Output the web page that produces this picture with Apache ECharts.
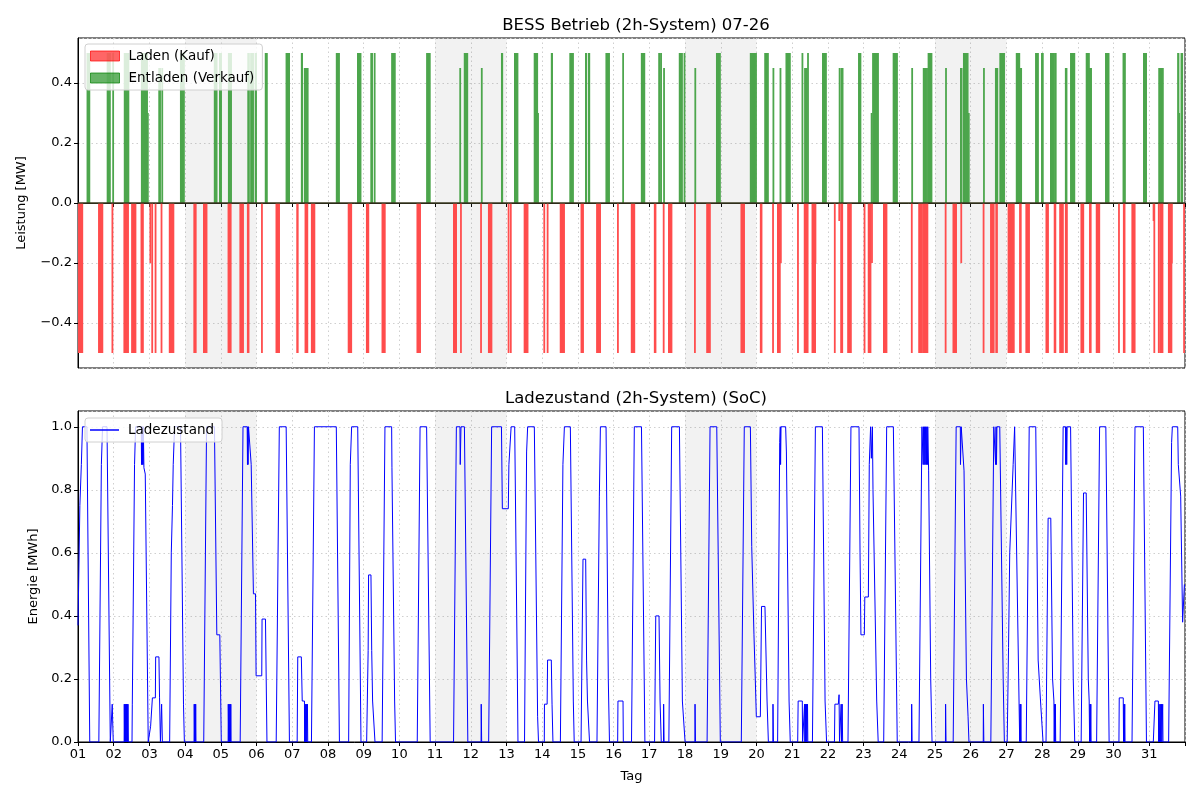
<!DOCTYPE html>
<html><head><meta charset="utf-8">
<script src="https://cdn.jsdelivr.net/npm/echarts@6/dist/echarts.min.js"></script>
<style>html,body{margin:0;padding:0;background:#fff}#c{width:1200px;height:800px}</style>
</head><body><div id="c"></div>
<script>
// time unit: hours since 01.07. 00:00 (31 days = 744 h)
const totalHours = 744;
const weekendRanges = [[72,120],[240,288],[408,456],[576,624]];
const seriesNames = ['Laden (Kauf)','Entladen (Verkauf)','Ladezustand'];

// charge intervals [start h, end h, power MW]
const chargeEvents = [
[0.5,3.0,-0.5],[14.0,16.5,-0.5],[23.0,23.25,-0.5],
[31.0,31.25,-0.5],[31.5,31.75,-0.5],[32.0,32.25,-0.5],[32.5,32.75,-0.5],[33.0,33.25,-0.5],[33.5,33.75,-0.5],
[36.25,38.75,-0.5],[42.5,42.75,-0.5],[43.0,43.25,-0.5],[43.5,43.75,-0.5],
[48.5,48.75,-0.2],[49.75,50.0,-0.5],[52.0,52.25,-0.5],[56.0,56.25,-0.5],
[61.5,64.25,-0.5],[78.0,78.25,-0.5],[78.5,78.75,-0.5],[79.0,79.25,-0.5],
[84.5,86.5,-0.5],[101.0,101.25,-0.5],[101.5,101.75,-0.5],[102.0,102.25,-0.5],[102.5,102.75,-0.5],
[109.0,111.0,-0.5],[114.0,114.25,-0.5],[114.5,114.75,-0.5],[123.5,123.75,-0.5],
[133.25,135.25,-0.5],[147.25,147.75,-0.5],[152.75,153.0,-0.5],[153.5,153.75,-0.5],[154.0,154.25,-0.5],
[157.0,159.0,-0.5],[181.75,183.75,-0.5],[194.0,195.25,-0.5],[204.5,206.25,-0.5],
[228.0,230.0,-0.5],[252.5,254.25,-0.5],[257.25,257.5,-0.5],[270.75,271.0,-0.5],
[276.0,278.0,-0.5],[289.25,289.5,-0.5],[290.75,291.0,-0.5],[300.0,302.25,-0.5],
[313.25,313.5,-0.5],[315.5,315.75,-0.5],[324.25,326.75,-0.5],[338.25,339.5,-0.5],
[348.75,351.0,-0.5],[362.75,363.0,-0.5],[372.0,374.0,-0.5],
[387.5,388.25,-0.5],[393.5,393.75,-0.5],[397.0,399.0,-0.5],[414.5,414.75,-0.5],
[422.75,424.75,-0.5],[445.75,447.75,-0.5],[458.75,459.5,-0.5],[467.0,467.25,-0.5],
[470.25,471.75,-0.5],[472.25,472.5,-0.2],[483.75,484.0,-0.5],
[488.25,488.5,-0.5],[488.75,489.0,-0.5],[489.5,489.75,-0.5],[490.25,490.5,-0.5],
[493.5,495.5,-0.5],[495.5,495.75,-0.2],[508.5,508.75,-0.5],[511.5,511.75,-0.06],
[512.75,513.0,-0.5],[513.5,513.75,-0.5],[517.5,519.5,-0.5],
[528.5,528.75,-0.5],[531.25,532.75,-0.5],[533.5,533.75,-0.2],[541.5,543.5,-0.5],
[560.25,560.5,-0.5],[565.25,567.25,-0.5],[568.0,568.25,-0.5],[568.75,569.0,-0.5],
[569.5,569.75,-0.5],[570.25,570.5,-0.5],[570.75,571.0,-0.5],[583.0,583.25,-0.5],
[588.25,590.25,-0.5],[593.5,593.75,-0.2],[608.5,608.75,-0.5],
[613.5,615.5,-0.5],[617.0,617.25,-0.5],[617.5,617.75,-0.5],[625.25,629.0,-0.5],
[633.0,633.25,-0.5],[633.5,633.75,-0.5],[637.25,639.25,-0.5],[650.75,652.0,-0.5],
[656.25,656.5,-0.5],[656.75,657.0,-0.5],[660.0,662.0,-0.5],[663.75,664.0,-0.5],[664.5,664.75,-0.5],
[674.25,675.75,-0.5],[680.0,680.25,-0.5],[680.5,680.75,-0.5],[684.5,686.5,-0.5],
[699.5,699.75,-0.5],[702.75,703.0,-0.5],[703.25,703.5,-0.5],[708.5,710.25,-0.5],
[722.75,723.0,-0.06],[723.25,723.5,-0.5],[726.25,726.5,-0.5],[727.25,727.5,-0.5],
[728.0,728.25,-0.5],[728.75,729.0,-0.5],[733.0,735.0,-0.5],[735.0,735.25,-0.2],[743.25,743.5,-0.5]
];

// discharge intervals [start h, end h, power MW]
const dischargeEvents = [
[6.25,7.75,0.5],[19.75,21.5,0.5],[23.5,23.75,0.5],
[31.25,31.5,0.5],[31.75,32.0,0.5],[32.25,32.5,0.5],[32.75,33.0,0.5],[33.25,33.5,0.5],[33.75,34.0,0.5],
[42.75,43.0,0.5],[43.25,43.5,0.5],[43.75,44.0,0.5],[44.25,46.5,0.5],[46.5,47.0,0.3],
[54.5,55.25,0.45],[56.5,56.75,0.45],[69.0,71.25,0.5],[91.75,93.25,0.5],[95.25,96.25,0.5],
[101.25,101.5,0.5],[101.75,102.0,0.5],[102.25,102.5,0.5],[102.75,103.0,0.5],
[114.25,114.5,0.5],[114.75,115.0,0.5],[116.25,117.75,0.5],[119.25,119.75,0.5],
[126.0,127.0,0.5],[140.0,142.0,0.5],[150.25,150.75,0.5],
[152.25,152.5,0.45],[153.0,153.25,0.45],[153.75,154.0,0.45],[154.25,154.5,0.45],
[173.75,175.5,0.5],[188.0,190.0,0.5],[197.0,197.75,0.5],[199.25,199.5,0.5],
[211.0,213.0,0.5],[234.5,236.5,0.5],[256.75,257.0,0.45],[259.75,261.75,0.5],
[271.25,271.5,0.45],[284.75,285.25,0.5],[293.5,295.5,0.5],[306.75,308.75,0.5],[308.75,309.25,0.3],
[318.25,318.75,0.5],[330.75,332.75,0.5],[341.25,341.75,0.5],[343.25,343.75,0.5],
[355.0,357.0,0.5],[366.25,366.5,0.5],[378.75,380.75,0.5],
[390.5,391.0,0.5],[391.75,392.0,0.5],[393.75,394.0,0.45],[404.25,406.0,0.5],[407.5,407.75,0.5],
[414.75,415.0,0.45],[429.25,431.5,0.5],[452.0,455.75,0.5],[461.75,463.75,0.5],
[467.25,467.5,0.45],[472.0,472.25,0.45],[476.0,478.5,0.5],[486.75,487.0,0.5],
[488.5,488.75,0.45],[489.0,489.25,0.45],[489.75,490.0,0.45],[490.5,490.75,0.5],
[500.5,502.75,0.5],[511.75,512.0,0.45],[513.0,513.25,0.45],[513.75,514.0,0.45],
[524.75,526.0,0.5],[533.25,533.5,0.3],[534.25,536.75,0.5],[536.75,537.75,0.5],
[548.0,550.5,0.5],[560.5,560.75,0.45],
[568.25,568.5,0.45],[569.0,569.25,0.45],[569.75,570.0,0.45],[570.5,570.75,0.45],
[571.5,573.75,0.5],[583.25,583.5,0.45],[593.25,593.5,0.45],[593.75,594.0,0.45],
[595.25,598.0,0.5],[598.0,598.75,0.3],[608.75,609.0,0.45],
[616.75,617.0,0.45],[617.25,617.5,0.45],[617.75,618.0,0.45],[619.75,622.5,0.5],
[630.75,632.75,0.5],[633.25,633.5,0.45],[633.75,634.0,0.45],
[643.75,645.25,0.5],[647.75,648.5,0.5],[653.75,655.75,0.5],[656.5,656.75,0.5],[657.0,657.25,0.5],
[663.75,664.0,0.45],[664.25,664.5,0.45],[667.25,669.75,0.5],
[677.75,679.5,0.5],[679.75,680.0,0.45],[680.25,680.5,0.45],[680.75,681.0,0.45],
[690.75,692.75,0.5],[702.5,702.75,0.5],[703.0,703.25,0.5],[703.5,703.75,0.5],
[716.25,718.0,0.5],[726.5,726.75,0.45],[727.5,727.75,0.45],[728.25,728.5,0.45],[729.0,729.25,0.45],
[739.25,739.75,0.5],[739.75,740.25,0.3],[741.5,742.25,0.5]
];

// state of charge [h, MWh]
const socPoints = [
[0,0.37],[0.5,0.37],[1.25,0.75],[2.25,0.88],[3.0,1.0],[6.0,1.0],[7.9,0],
[14.0,0],[15.7,0.88],[16.5,1.0],[19.5,1.0],[21.7,0],
[23.0,0],[23.0,0.12],[23.5,0.12],[23.7,0],
[31.0,0],[31.1,0.12],[31.35,0],[31.6,0.12],[31.85,0],[32.1,0.12],[32.35,0],[32.6,0.12],[32.85,0],[33.1,0.12],[33.35,0],[33.6,0.12],[33.85,0],
[36.3,0],[36.5,0.12],[38.0,0.88],[38.7,1.0],[42.5,1.0],[42.7,0.88],[42.9,1.0],[43.2,0.88],[43.4,1.0],[43.7,0.88],[43.9,1.0],[44.3,0.87],[45.2,0.85],[47.2,0],
[48.5,0],[48.8,0.05],[49.9,0.05],[50.0,0.14],[52.0,0.14],[52.2,0.27],[54.4,0.27],[54.8,0.14],[55.4,0],[56.0,0],[56.2,0.12],[56.5,0.12],[56.7,0],
[61.6,0],[62.7,0.6],[63.5,0.75],[64.0,0.88],[64.9,1.0],[68.9,1.0],[70.9,0.12],[71.5,0],
[78.0,0],[78.1,0.12],[78.4,0],[78.6,0.12],[78.9,0],[79.1,0.12],[79.3,0],
[84.5,0],[86.4,1.0],[91.7,1.0],[93.3,0.34],[95.3,0.34],[96.3,0],
[100.9,0],[101.0,0.12],[101.3,0],[101.6,0.12],[101.9,0],[102.2,0.12],[102.5,0],[102.7,0.12],[102.9,0],
[109.0,0],[110.9,1.0],[113.7,1.0],[113.9,0.88],[114.1,1.0],[114.3,0.88],[114.6,1.0],[115.9,1.0],[116.4,0.88],[117.9,0.47],[119.3,0.47],[119.7,0.21],[123.5,0.21],[123.7,0.39],[126.0,0.39],[127.0,0],
[133.2,0],[135.3,1.0],[139.9,1.0],[142.1,0],
[147.3,0],[147.7,0.27],[150.1,0.27],[150.7,0.13],[152.2,0.13],[152.3,0],[152.8,0.12],[153.0,0],[153.5,0.12],[153.7,0],[154.2,0.12],[154.4,0],
[156.9,0],[158.9,1.0],[173.6,1.0],[175.7,0],
[181.9,0],[183.0,0.88],[183.9,1.0],[188.0,1.0],[190.2,0],
[194.0,0],[195.0,0.29],[195.3,0.53],[196.9,0.53],[197.4,0.29],[198.0,0.13],[199.2,0.13],[199.6,0],
[204.4,0],[206.3,1.0],[210.8,1.0],[211.0,0.87],[212.8,0.13],[213.4,0],
[228.0,0],[229.9,1.0],[234.3,1.0],[236.7,0],
[252.4,0],[254.3,1.0],[256.7,1.0],[256.9,0.88],[257.2,0.88],[257.4,1.0],[259.7,1.0],[262.0,0],
[270.9,0],[271.0,0.12],[271.2,0.12],[271.3,0],
[276.0,0],[278.0,1.0],[284.6,1.0],[285.2,0.74],[289.2,0.74],[289.6,0.88],[290.8,0.88],[291.1,1.0],[293.5,1.0],[295.3,0.2],[295.7,0],
[300.1,0],[301.5,0.92],[302.2,1.0],[306.7,1.0],[308.9,0.08],[309.5,0],
[313.4,0],[313.5,0.12],[315.3,0.12],[315.6,0.26],[318.1,0.26],[318.6,0.12],[319.2,0],
[324.2,0],[325.9,0.88],[326.4,0.88],[326.9,1.0],[330.9,1.0],[332.9,0.13],[333.5,0],
[338.1,0],[339.4,0.58],[341.2,0.58],[341.8,0.26],[342.4,0.13],[343.4,0.13],[343.8,0],
[348.8,0],[350.4,0.78],[351.1,1.0],[354.9,1.0],[356.4,0.2],[357.2,0],
[362.7,0],[362.9,0.13],[366.3,0.13],[366.5,0],
[372.0,0],[373.9,1.0],[378.7,1.0],[381.0,0],
[387.5,0],[388.3,0.4],[390.5,0.4],[391.2,0.13],[391.8,0.13],[392.0,0],[393.5,0],[393.6,0.12],[393.8,0.12],[393.9,0],
[397.1,0],[399.0,1.0],[404.2,1.0],[406.2,0.13],[407.5,0.13],[408.0,0],
[414.6,0],[414.7,0.12],[414.9,0.12],[415.0,0],
[422.8,0],[424.8,1.0],[429.3,1.0],[431.7,0],
[445.8,0],[447.8,1.0],[451.9,1.0],[452.8,0.62],[453.7,0.62],[454.3,0.34],[455.2,0.2],[455.9,0.08],[458.6,0.08],[459.4,0.43],[461.7,0.43],[463.1,0.13],[464.0,0],
[467.0,0],[467.1,0.12],[467.3,0.12],[467.4,0],
[470.2,0],[471.6,0.95],[472.0,1.0],[472.2,0.88],[472.5,1.0],[475.6,1.0],[476.1,0.92],[477.9,0.13],[478.7,0],
[483.7,0],[484.0,0.13],[486.8,0.13],[487.0,0],[488.2,0],[488.3,0.12],[488.5,0],[488.9,0.12],[489.1,0],[489.6,0.12],[489.8,0],[490.3,0.12],[490.5,0],
[493.6,0],[495.6,1.0],[500.3,1.0],[502.1,0.13],[503.1,0],
[508.4,0],[508.7,0.12],[511.0,0.12],[511.5,0.15],[511.8,0],[512.8,0],[512.9,0.12],[513.1,0],[513.6,0.12],[513.9,0],
[517.5,0],[519.5,1.0],[524.9,1.0],[525.6,0.6],[526.2,0.34],[528.5,0.34],[528.8,0.46],[531.2,0.46],[531.8,0.88],[532.7,1.0],[533.2,0.9],[533.9,1.0],[534.3,0.8],[536.8,0.13],[537.8,0],
[541.5,0],[543.5,1.0],[548.0,1.0],[550.6,0],
[560.2,0],[560.3,0.12],[560.5,0.12],[560.6,0],
[565.2,0],[567.2,1.0],[567.9,1.0],[568.0,0.88],[568.2,1.0],[568.7,0.88],[568.9,1.0],[569.4,0.88],[569.6,1.0],[570.2,0.88],[570.4,1.0],[570.9,0.88],[571.1,1.0],[571.7,0.86],[573.1,0.2],[574.0,0],
[583.0,0],[583.1,0.12],[583.3,0.12],[583.4,0],
[588.2,0],[590.2,1.0],[593.0,1.0],[593.1,0.88],[593.5,0.88],[593.6,1.0],[594.8,1.0],[595.5,0.86],[597.1,0.2],[598.2,0.08],[598.8,0],
[608.4,0],[608.5,0.12],[608.7,0.12],[608.8,0],
[613.5,0],[615.5,1.0],[616.6,1.0],[616.7,0.88],[617.0,1.0],[617.3,0.88],[617.6,1.0],[619.5,1.0],[621.8,0.2],[622.6,0],
[624.5,0],[625.4,0.3],[626.2,0.6],[628.5,0.88],[629.5,1.0],[630.7,1.0],[632.9,0],[633.2,0.12],[633.4,0],[633.7,0.12],[633.9,0],
[637.3,0],[639.3,1.0],[643.7,1.0],[645.3,0.26],[646.9,0.13],[648.0,0.13],[648.6,0],
[650.6,0],[652.0,0.71],[653.8,0.71],[655.0,0.2],[655.9,0.13],[656.1,0],[656.4,0.12],[656.6,0],[656.9,0.12],[657.1,0],
[660.1,0],[662.1,1.0],[663.7,1.0],[663.8,0.88],[664.2,1.0],[664.5,0.88],[664.8,1.0],[667.1,1.0],[668.9,0.2],[669.9,0],
[674.2,0],[675.8,0.79],[677.6,0.79],[679.0,0.2],[679.6,0.13],[679.9,0],[680.2,0.12],[680.4,0],[680.7,0.12],[680.9,0],
[684.6,0],[686.6,1.0],[690.8,1.0],[693.0,0],
[699.6,0],[699.8,0.14],[702.5,0.14],[702.7,0],[703.0,0.12],[703.2,0],[703.5,0.12],[703.7,0],
[708.4,0],[710.4,1.0],[716.0,1.0],[718.1,0],
[722.7,0],[723.8,0.13],[726.1,0.13],[726.3,0],[726.6,0.12],[726.8,0],[727.4,0.12],[727.6,0],[728.2,0.12],[728.4,0],[729.0,0.12],[729.2,0],
[733.0,0],[735.0,0.95],[735.5,1.0],[739.1,1.0],[739.5,0.88],[741.1,0.78],[741.6,0.78],[742.4,0.38],[743.3,0.38],[743.6,0.5],[744,0.5]
];

function toSlots(events){
  const out=[];
  events.forEach(([s,e,p])=>{ for(let t=s;t<e-1e-9;t+=0.25) out.push([t+0.125,p]); });
  return out;
}
const FONT='DejaVu Sans';
const fmt1 = v => (Math.abs(v)<1e-9?'0.0':v.toFixed(1)).replace('-','\u2212');
const dayLabel = v => v>=totalHours-0.01 ? '' : String(Math.round(v/24)+1).padStart(2,'0');
const gridLine = {show:true,lineStyle:{type:[1.5,3],color:'#cfcfcf',width:1}};
const axisBlack = {show:true,lineStyle:{color:'#000',width:1}};
const tickBlack = {show:true,length:4,lineStyle:{color:'#000'}};
const labelStyle = {color:'#000',fontSize:13,fontFamily:FONT};
const weekendArea = weekendRanges.map(r=>[{xAxis:r[0]},{xAxis:r[1]}]);
const legendText = {fontSize:13.5,color:'#000',fontFamily:FONT,padding:[0,0,0,4]};

const chart = echarts.init(document.getElementById('c'),null,{renderer:'canvas'});
chart.setOption({
  animation:false,
  backgroundColor:'#fff',
  textStyle:{fontFamily:FONT},
  title:[
    {text:'BESS Betrieb (2h-System) 07-26',left:631,top:12,textAlign:'center',textStyle:{fontSize:16.5,fontWeight:'normal',color:'#000',fontFamily:FONT}},
    {text:'Ladezustand (2h-System) (SoC)',left:631,top:385,textAlign:'center',textStyle:{fontSize:16.5,fontWeight:'normal',color:'#000',fontFamily:FONT}}
  ],
  legend:[
    {data:[
       {name:seriesNames[0],itemStyle:{color:'rgba(255,0,0,0.6)',borderColor:'rgba(255,0,0,0.7)',borderWidth:1}},
       {name:seriesNames[1],itemStyle:{color:'rgba(0,128,0,0.6)',borderColor:'rgba(0,128,0,0.7)',borderWidth:1}}],
     left:85,top:44,orient:'vertical',itemWidth:29,itemHeight:10,itemGap:8,icon:'rect',
     backgroundColor:'rgba(255,255,255,0.8)',borderColor:'#d0d0d0',borderWidth:1,borderRadius:3,padding:[5,8,5,5],
     textStyle:legendText},
    {data:[{name:seriesNames[2],itemStyle:{color:'#0000ff'}}],left:85,top:418,itemWidth:29,itemHeight:1.5,icon:'rect',
     backgroundColor:'rgba(255,255,255,0.8)',borderColor:'#d0d0d0',borderWidth:1,borderRadius:3,padding:[5,8,5,5],
     textStyle:legendText}
  ],
  grid:[
    {left:78,top:38,width:1107,height:330,show:true,borderColor:'#000',borderWidth:1,backgroundColor:'transparent'},
    {left:78,top:411,width:1107,height:331,show:true,borderColor:'#000',borderWidth:1,backgroundColor:'transparent'}
  ],
  xAxis:[
    {type:'value',gridIndex:0,min:0,max:totalHours,interval:24,axisLine:axisBlack,axisTick:tickBlack,
     axisLabel:{show:false},splitLine:gridLine},
    {type:'value',gridIndex:1,min:0,max:totalHours,interval:24,axisLine:axisBlack,axisTick:tickBlack,
     axisLabel:Object.assign({formatter:dayLabel,margin:6,showMaxLabel:true},labelStyle),splitLine:gridLine,
     name:'Tag',nameLocation:'middle',nameGap:28,nameTextStyle:{fontSize:13,color:'#000',fontFamily:FONT}}
  ],
  yAxis:[
    {type:'value',gridIndex:0,min:-0.55,max:0.55,splitNumber:5,axisLine:axisBlack,axisTick:tickBlack,
     axisLabel:Object.assign({formatter:fmt1,showMinLabel:false,showMaxLabel:false,margin:6},labelStyle),splitLine:gridLine,
     name:'Leistung [MW]',nameLocation:'middle',nameGap:50,nameTextStyle:{fontSize:13,color:'#000',fontFamily:FONT}},
    {type:'value',gridIndex:1,min:0,max:1.05,splitNumber:5,axisLine:axisBlack,axisTick:tickBlack,
     axisLabel:Object.assign({formatter:fmt1,showMaxLabel:false,margin:6},labelStyle),splitLine:gridLine,
     name:'Energie [MWh]',nameLocation:'middle',nameGap:38,nameTextStyle:{fontSize:13,color:'#000',fontFamily:FONT}}
  ],
  series:[
    {type:'line',xAxisIndex:0,yAxisIndex:0,data:[],silent:true,z:0,
     markArea:{silent:true,itemStyle:{color:'rgba(128,128,128,0.1)'},data:weekendArea}},
    {type:'line',xAxisIndex:1,yAxisIndex:1,data:[],silent:true,z:0,
     markArea:{silent:true,itemStyle:{color:'rgba(128,128,128,0.1)'},data:weekendArea}},
    {name:seriesNames[0],type:'bar',xAxisIndex:0,yAxisIndex:0,data:toSlots(chargeEvents),barWidth:1.8,barGap:'-100%',
     itemStyle:{color:'#ff4d4d'},z:2,
     markLine:{silent:true,symbol:'none',label:{show:false},lineStyle:{color:'#3a3a20',width:1.5,type:'solid'},data:[{yAxis:0}]}},
    {name:seriesNames[1],type:'bar',xAxisIndex:0,yAxisIndex:0,data:toSlots(dischargeEvents),barWidth:1.8,barGap:'-100%',
     itemStyle:{color:'#4da64d'},z:2},
    {name:seriesNames[2],type:'line',xAxisIndex:1,yAxisIndex:1,data:socPoints,symbol:'none',showSymbol:false,
     lineStyle:{color:'#0000ff',width:1},itemStyle:{color:'#0000ff'},z:3}
  ]
});
</script></body></html>
